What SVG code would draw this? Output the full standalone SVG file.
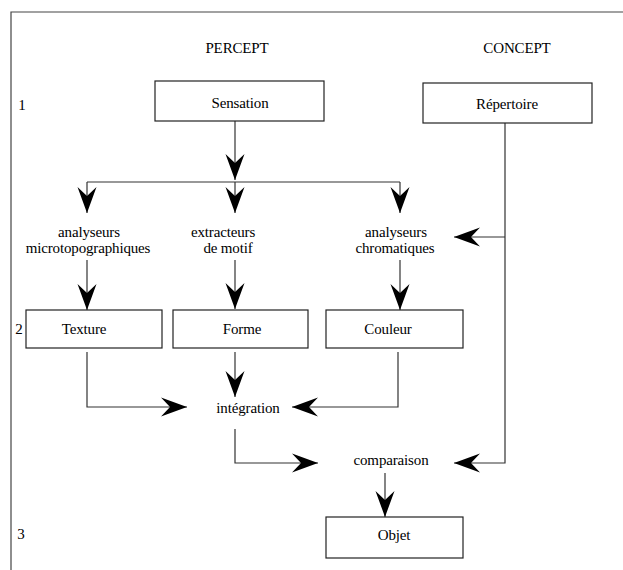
<svg xmlns="http://www.w3.org/2000/svg" width="623" height="570" viewBox="0 0 623 570">
<style>
text{font-family:"Liberation Serif",serif;font-size:15px;fill:#000;text-anchor:middle;letter-spacing:-0.15px}
.box{fill:#fff;stroke:#222;stroke-width:1.2}
.c{fill:none;stroke:#333;stroke-width:1.2}
</style>
<defs>
<marker id="ah" markerUnits="userSpaceOnUse" viewBox="-27 -10 28 20" refX="0" refY="0" markerWidth="28" markerHeight="20" orient="auto">
<path d="M0,0 L-26,-9.5 L-17,0 L-26,9.5 Z" fill="#000"/>
</marker>
</defs>
<rect width="623" height="570" fill="#fff"/>
<path d="M11,570 V12 H623" fill="none" stroke="#444" stroke-width="1.2"/>
<text x="237" y="53">PERCEPT</text>
<text x="517" y="53">CONCEPT</text>
<text x="22" y="110">1</text>
<text x="19" y="334">2</text>
<text x="21" y="539">3</text>
<g id="connectors">
<path class="c" d="M235,121 V180" marker-end="url(#ah)"/>
<path class="c" d="M87,182 H400"/>
<path class="c" d="M87,182 V213" marker-end="url(#ah)"/>
<path class="c" d="M235,182 V213" marker-end="url(#ah)"/>
<path class="c" d="M400,182 V213" marker-end="url(#ah)"/>
<path class="c" d="M87,260 V310" marker-end="url(#ah)"/>
<path class="c" d="M235,260 V309" marker-end="url(#ah)"/>
<path class="c" d="M400,260 V310" marker-end="url(#ah)"/>
<path class="c" d="M505,123 V463 H454" marker-end="url(#ah)"/>
<path class="c" d="M505,237 H454" marker-end="url(#ah)"/>
<path class="c" d="M87,352 V407 H187" marker-end="url(#ah)"/>
<path class="c" d="M235,352 V397" marker-end="url(#ah)"/>
<path class="c" d="M398,352 V407 H292" marker-end="url(#ah)"/>
<path class="c" d="M235,429 V463 H318" marker-end="url(#ah)"/>
<path class="c" d="M385,473 V517" marker-end="url(#ah)"/>
</g>
<g id="sensation"><rect class="box" x="155" y="81" width="169" height="40"/><text x="240" y="108">Sensation</text></g>
<g id="repertoire"><rect class="box" x="423" y="83" width="169" height="40"/><text x="507" y="109">Répertoire</text></g>
<g id="analyseurs-micro"><text x="89" y="237">analyseurs</text><text x="88" y="253">microtopographiques</text></g>
<g id="extracteurs"><text x="223" y="237">extracteurs</text><text x="228" y="253">de motif</text></g>
<g id="analyseurs-chrom"><text x="396" y="237">analyseurs</text><text x="395" y="253">chromatiques</text></g>
<g id="texture"><rect class="box" x="26" y="310" width="136" height="38"/><text x="84" y="334">Texture</text></g>
<g id="forme"><rect class="box" x="173" y="310" width="135" height="38"/><text x="242" y="334">Forme</text></g>
<g id="couleur"><rect class="box" x="326" y="310" width="137" height="38"/><text x="388" y="334">Couleur</text></g>
<g id="integration"><text x="248" y="413">intégration</text></g>
<g id="comparaison"><text x="391" y="465">comparaison</text></g>
<g id="objet"><rect class="box" x="326" y="517" width="137" height="41"/><text x="394" y="540">Objet</text></g>
</svg>
